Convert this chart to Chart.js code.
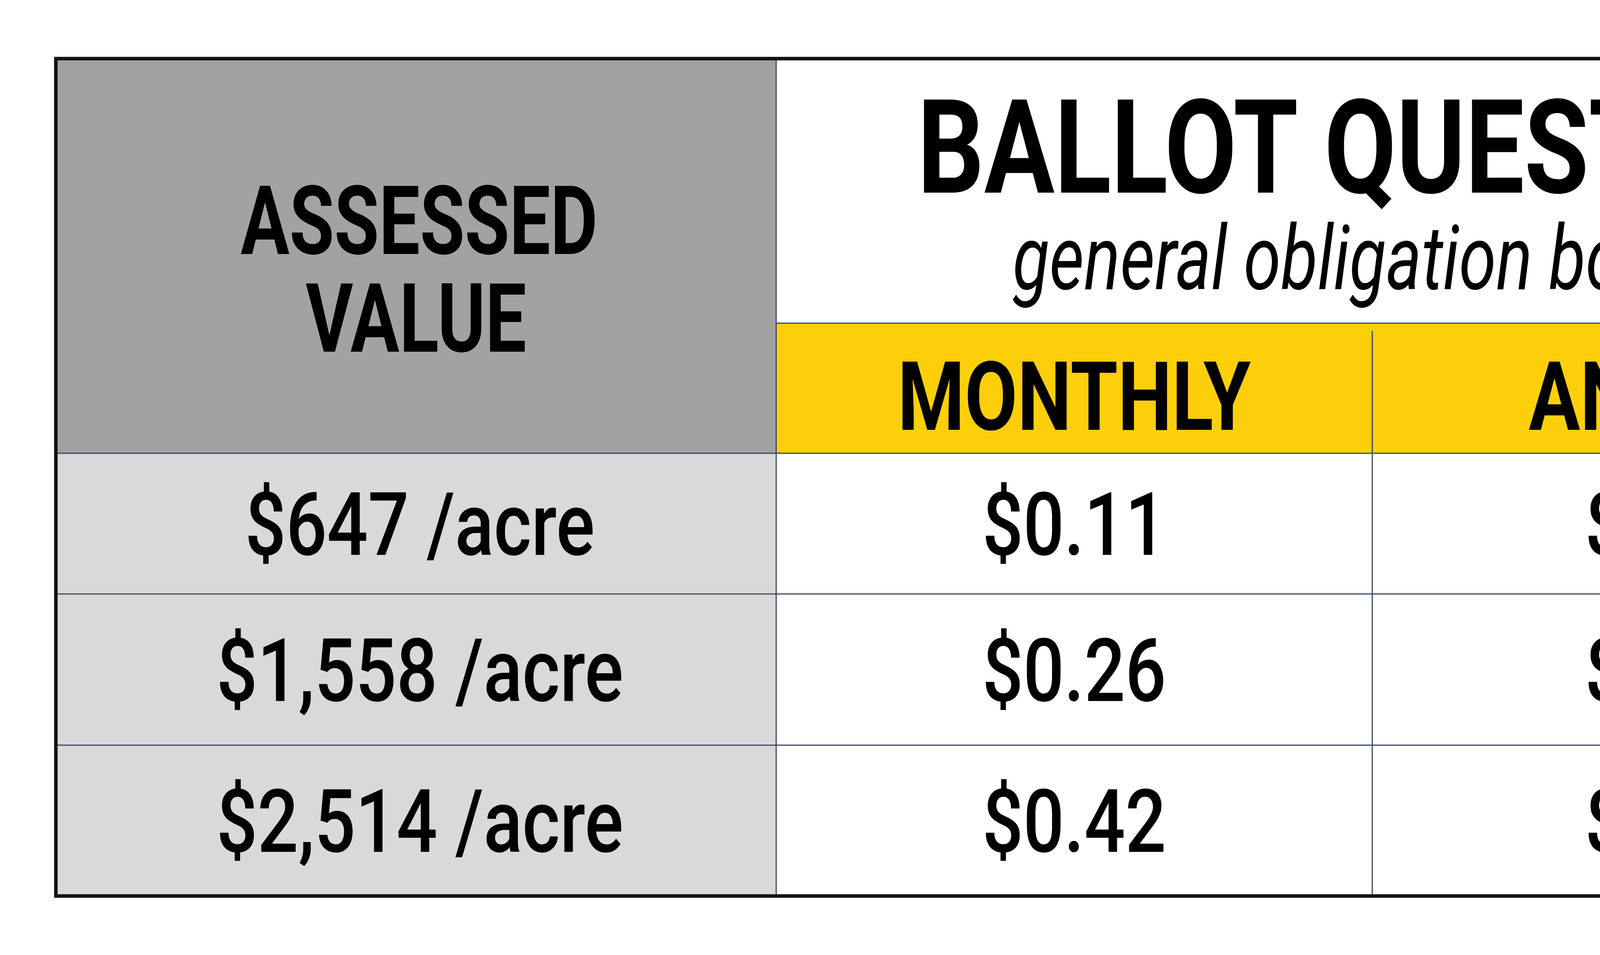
<!DOCTYPE html>
<html><head><meta charset="utf-8">
<script src="https://cdn.jsdelivr.net/npm/chart.js@4/dist/chart.umd.min.js"></script>
<style>html,body{margin:0;padding:0;background:#fff;overflow:hidden}canvas{display:block;width:5227px;height:2444px}</style>
</head><body>
<canvas id="c" width="5227" height="2444" style="width:5227px;height:2444px"></canvas>
<script>
// data
const rowLabels = ['$647 /acre', '$1,558 /acre', '$2,514 /acre'];
const monthly = [0.11, 0.26, 0.42];
const annual = [1.29, 3.11, 5.01];
const colHeaders = ['MONTHLY', 'ANNUAL'];
const title = 'BALLOT QUESTION';
const subtitle = 'general obligation bond';
const cornerLabel = ['ASSESSED', 'VALUE'];

// layout (scale units = canvas pixels)
const colEdges = [143, 1987, 3513, 5087];
const rowEdges = [1160, 1520, 1907, 2293];
const TOP = 150, YELLOW_TOP = 827;

const fmt = v => '$' + v.toFixed(2);

function text(ctx, s, x, y, size, opts = {}) {
  ctx.save();
  ctx.font = (opts.italic ? 'italic ' : '') + (opts.weight || 'bold') + ' ' + size + 'px Roboto';
  ctx.fillStyle = '#000';
  ctx.textAlign = 'center';
  ctx.textBaseline = 'alphabetic';
  ctx.translate(x, y);
  ctx.scale(opts.sx || 0.8, 1);
  ctx.fillText(s, 0, 0);
  ctx.restore();
}

const tablePlugin = {
  id: 'table',
  afterDraw(chart) {
    const ctx = chart.ctx, X = chart.scales.x, Y = chart.scales.y;
    const px = v => X.getPixelForValue(v), py = v => Y.getPixelForValue(v);
    const rect = (x0, y0, x1, y1, c) => { ctx.fillStyle = c; ctx.fillRect(px(x0), py(y0), px(x1) - px(x0), py(y1) - py(y0)); };
    rect(colEdges[0], TOP, colEdges[1], rowEdges[0], '#a2a2a2');
    rect(colEdges[1], YELLOW_TOP, colEdges[3], rowEdges[0], '#fccf0a');
    for (let i = 0; i < rowLabels.length; i++) rect(colEdges[0], rowEdges[i], colEdges[1], rowEdges[i + 1], '#dad8d9');
    ctx.strokeStyle = '#3c4766'; ctx.lineWidth = 3;
    const line = (x0, y0, x1, y1) => { ctx.beginPath(); ctx.moveTo(px(x0), py(y0)); ctx.lineTo(px(x1), py(y1)); ctx.stroke(); };
    line(colEdges[1], TOP, colEdges[1], rowEdges[3]);
    line(colEdges[2], YELLOW_TOP + 20, colEdges[2], rowEdges[3]);
    line(colEdges[1], YELLOW_TOP, colEdges[3], YELLOW_TOP);
    for (let i = 0; i < 3; i++) line(colEdges[0], rowEdges[i], colEdges[3], rowEdges[i]);
    ctx.strokeStyle = '#111'; ctx.lineWidth = 9;
    ctx.strokeRect(px(colEdges[0]), py(TOP), px(colEdges[3]) - px(colEdges[0]), py(rowEdges[3]) - py(TOP));
    text(ctx, cornerLabel[0], 1073, 650, 245, { sx: 0.76 });
    text(ctx, cornerLabel[1], 1065, 900, 245, { sx: 0.76 });
    text(ctx, title, 3517, 493, 335, { sx: 0.8 });
    text(ctx, subtitle, 3467, 740, 230, { italic: true, weight: 'normal', sx: 0.75 });
    text(ctx, colHeaders[0], (colEdges[1] + colEdges[2]) / 2, 1100, 245, { sx: 0.8 });
    text(ctx, colHeaders[1], (colEdges[2] + colEdges[3]) / 2, 1100, 245, { sx: 0.8 });
    for (let i = 0; i < rowLabels.length; i++) {
      const base = (rowEdges[i] + rowEdges[i + 1]) / 2 + 80;
      text(ctx, rowLabels[i], 1075, base, 225, { weight: '500', sx: 0.82 });
      text(ctx, fmt(monthly[i]), 2750, base, 225, { weight: '500', sx: 0.82 });
      text(ctx, fmt(annual[i]), 4293, base, 225, { weight: '500', sx: 0.82 });
    }
  }
};

new Chart(document.getElementById('c'), {
  type: 'scatter',
  data: { datasets: [{ data: [] }] },
  options: {
    responsive: false, animation: false, devicePixelRatio: 1,
    layout: { padding: 0 },
    plugins: { legend: { display: false }, tooltip: { enabled: false } },
    scales: {
      x: { type: 'linear', min: 0, max: 5227, display: false },
      y: { type: 'linear', min: 0, max: 2444, reverse: true, display: false }
    }
  },
  plugins: [tablePlugin]
});
</script>
</body></html>
